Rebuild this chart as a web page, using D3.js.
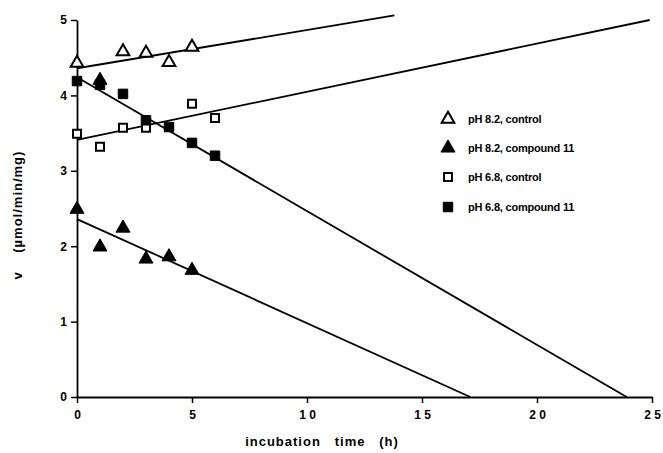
<!DOCTYPE html>
<html>
<head>
<meta charset="utf-8">
<script src="https://cdn.jsdelivr.net/npm/d3@7"></script>
<style>
  body { margin: 0; background: #fff; }
  text { font-family: "Liberation Sans", Arial, sans-serif; font-weight: bold; fill: #000; }
</style>
</head>
<body>
<div id="chart"></div>
<script>
const Width = 663
const Height = 453

// measured points [time h, v]
const ctrl82 = [[0, 4.43], [2, 4.58], [3, 4.56], [4, 4.44], [5, 4.64]]
const cmpd82 = [[0, 2.49], [1, 1.99], [2, 2.24], [3, 1.83], [4, 1.86], [5, 1.68], [1, 4.2]]
const ctrl68 = [[0, 3.49], [1, 3.32], [2, 3.57], [3, 3.57], [5, 3.89], [6, 3.70]]
const cmpd68 = [[0, 4.19], [1, 4.14], [2, 4.02], [3, 3.67], [4, 3.58], [5, 3.37], [6, 3.20]]

// fitted lines, start and end [time, v]
const fitCtrl82 = [[0, 4.36], [13.8, 5.06]]
const fitCmpd82 = [[0, 2.36], [17.1, 0]]
const fitCtrl68 = [[0, 3.41], [24.9, 5.0]]
const fitCmpd68 = [[0, 4.24], [23.9, 0]]

const legendLabels = ['pH 8.2, control', 'pH 8.2, compound 11', 'pH 6.8, control', 'pH 6.8, compound 11']
const xTicks = [0, 5, 10, 15, 20, 25]
const yTicks = [0, 1, 2, 3, 4, 5]

const svg = d3.select('#chart')
    .append('svg')
    .attr('width', Width)
    .attr('height', Height)

const x = d3.scaleLinear().domain([0, 25]).range([77, 652])
const y = d3.scaleLinear().domain([0, 5]).range([397, 20])

// axes
const xAxis = svg.append('g').attr('transform', `translate(0,${y(0)})`)
xAxis.call(d3.axisBottom(x).tickValues(d3.range(0, 26, 1)).tickSize(4).tickFormat(''))
xAxis.call(d3.axisBottom(x).tickValues(xTicks).tickSize(6).tickSizeOuter(0)
    .tickFormat(d => String(d).split('').join(' ')))
xAxis.selectAll('text').attr('font-size', 12).attr('dy', '1.1em')
xAxis.selectAll('path, line').attr('stroke', '#000').attr('stroke-width', 1.5)

const yAxis = svg.append('g').attr('transform', `translate(${x(0)},0)`)
yAxis.call(d3.axisLeft(y).tickValues(d3.range(0.5, 5, 1)).tickSize(3).tickFormat(''))
yAxis.call(d3.axisLeft(y).tickValues(yTicks).tickSize(6).tickSizeOuter(0).tickFormat(d3.format('d')))
yAxis.selectAll('text').attr('font-size', 12).attr('dx', '-0.1em')
yAxis.selectAll('path, line').attr('stroke', '#000').attr('stroke-width', 1.5)
svg.selectAll('.domain').attr('stroke-width', 1.8)

// titles
svg.append('text')
    .attr('x', 322).attr('y', 446)
    .attr('text-anchor', 'middle')
    .attr('font-size', 13)
    .attr('letter-spacing', 1)
    .attr('xml:space', 'preserve')
    .text('incubation   time   (h)')

svg.append('text')
    .attr('transform', 'translate(22,215) rotate(-90)')
    .attr('text-anchor', 'middle')
    .attr('font-size', 13)
    .attr('letter-spacing', 1)
    .attr('xml:space', 'preserve')
    .text('v    (µmol/min/mg)')

// fitted lines
const line = d3.line().x(d => x(d[0])).y(d => y(d[1]))
svg.selectAll('.fit')
    .data([fitCtrl82, fitCmpd82, fitCtrl68, fitCmpd68])
    .enter().append('path')
    .attr('d', line)
    .attr('fill', 'none')
    .attr('stroke', '#000')
    .attr('stroke-width', 1.8)

// markers
const series = [
    { pts: ctrl82, type: d3.symbolTriangle, size: 70, filled: false },
    { pts: cmpd82, type: d3.symbolTriangle, size: 85, filled: true },
    { pts: ctrl68, type: d3.symbolSquare, size: 64, filled: false },
    { pts: cmpd68, type: d3.symbolSquare, size: 90, filled: true }
]

series.forEach(s => {
    svg.selectAll(null)
        .data(s.pts)
        .enter().append('path')
        .attr('transform', d => `translate(${x(d[0])},${y(d[1])})`)
        .attr('d', d3.symbol().type(s.type).size(s.size))
        .attr('fill', s.filled ? '#000' : '#fff')
        .attr('stroke', '#000')
        .attr('stroke-width', s.filled ? 1 : 2)
})

// legend
const legendY = [119, 148, 177, 207]
legendLabels.forEach((label, i) => {
    const s = series[i]
    svg.append('path')
        .attr('transform', `translate(448,${legendY[i]})`)
        .attr('d', d3.symbol().type(s.type).size(s.size))
        .attr('fill', s.filled ? '#000' : '#fff')
        .attr('stroke', '#000')
        .attr('stroke-width', s.filled ? 1 : 2)
    svg.append('text')
        .attr('x', 468).attr('y', legendY[i] + 4)
        .attr('font-size', 11)
        .attr('letter-spacing', -0.2)
        .text(label)
})
</script>
</body>
</html>
